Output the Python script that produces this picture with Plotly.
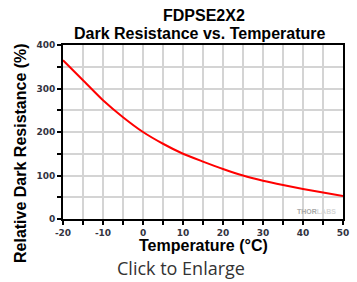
import plotly.graph_objects as go

temperature_c = [-20, -15, -10, -5, 0, 5, 10, 15, 20, 25, 30, 35, 40, 45, 50]
relative_resistance = [365, 319, 273, 234, 200, 173, 150, 132, 115, 100, 88, 78, 69, 61, 53]

x_ticks = [-20, -10, 0, 10, 20, 30, 40, 50]
y_ticks = [0, 100, 200, 300, 400]

title_line1 = "FDPSE2X2"
title_line2 = "Dark Resistance vs. Temperature"
x_title = "Temperature (°C)"
y_title = "Relative Dark Resistance (%)"
caption = "Click to Enlarge"

L, R, T, B = 63, 14, 45, 63
W, H = 357, 282
pw, ph = W - L - R, H - T - B

def px_x(p):
    return (p - L) / pw

def px_y(p):
    return (H - B - p) / ph

fig = go.Figure()
fig.add_trace(go.Scatter(
    x=temperature_c, y=relative_resistance, mode="lines",
    line=dict(color="#ff0000", width=2, shape="spline", smoothing=0.6),
    hoverinfo="skip", showlegend=False,
))

tickfont = dict(family="DejaVu Sans", size=9, color="#33333f", weight="bold")
axis_common = dict(
    showline=True, linecolor="black", linewidth=2, mirror=True,
    ticks="outside", ticklen=4, tickwidth=1.5, tickcolor="black",
    showgrid=True, gridcolor="#d4d4d4", gridwidth=1.5,
    zeroline=False, tickfont=tickfont, fixedrange=True, automargin=False,
)

fig.update_xaxes(
    range=[-20, 50], tickvals=x_ticks, ticktext=[str(v) for v in x_ticks],
    minor=dict(dtick=5, tick0=-20, ticks="outside", ticklen=4, tickcolor="black",
               showgrid=True, gridcolor="#d4d4d4", gridwidth=1.5),
    **axis_common,
)
fig.update_yaxes(
    range=[0, 400], tickvals=y_ticks, ticktext=[str(v) for v in y_ticks],
    minor=dict(dtick=50, tick0=0, ticks="outside", ticklen=4, tickcolor="black",
               showgrid=True, gridcolor="#d4d4d4", gridwidth=1.5),
    **axis_common,
)

annotations = [
    dict(text="<b>%s</b>" % title_line1, x=px_x(204), y=px_y(15),
         font=dict(family="Liberation Sans", size=16, color="black")),
    dict(text="<b>%s</b>" % title_line2, x=px_x(199), y=px_y(34),
         font=dict(family="Liberation Sans", size=16, color="black")),
    dict(text="<b>%s</b>" % x_title, x=px_x(203), y=px_y(245),
         font=dict(family="Liberation Sans", size=16, color="black")),
    dict(text="<b>%s</b>" % y_title, x=px_x(20), y=px_y(153), textangle=-90,
         font=dict(family="Liberation Sans", size=16, color="black")),
    dict(text=caption, x=px_x(181), y=px_y(268),
         font=dict(family="Open Sans", size=18, color="#333333")),
    dict(text="<b><span style='color:#a8a8a8'>THOR</span><span style='color:#d6d6d6'>LABS</span></b>",
         x=px_x(338), y=px_y(211), xanchor="right",
         font=dict(family="Liberation Sans", size=7)),
]
for a in annotations:
    a.setdefault("xanchor", "center")
    a.update(xref="paper", yref="paper", yanchor="middle", showarrow=False)

fig.update_layout(
    width=W, height=H, margin=dict(l=L, r=R, t=T, b=B),
    paper_bgcolor="white", plot_bgcolor="white",
    annotations=annotations, showlegend=False,
)

fig.write_html(
    "out.html",
    config={"displayModeBar": False},
    post_script="document.body.style.margin='0';document.body.style.overflow='hidden';",
)
